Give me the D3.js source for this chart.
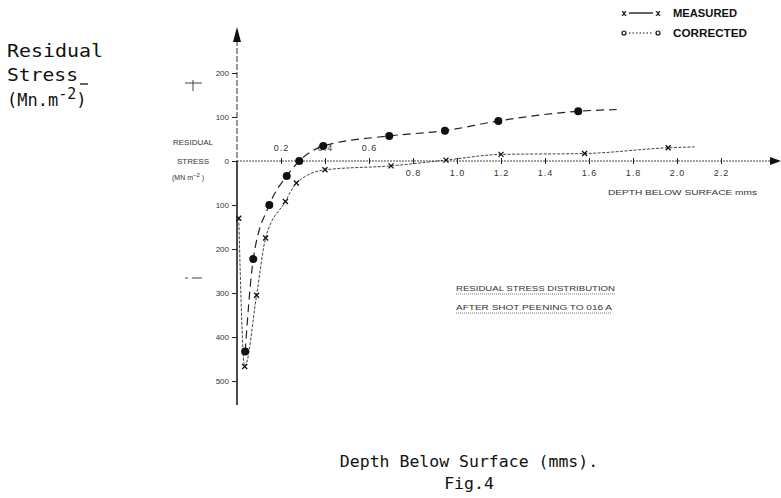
<!DOCTYPE html>
<html><head><meta charset="utf-8">
<script src="https://cdn.jsdelivr.net/npm/d3@7/dist/d3.min.js"></script>
<style>body{margin:0;background:#fff}svg{display:block}</style>
</head><body>
<svg id="c" width="781" height="498"></svg>
<script>
// ---- data ----
const xTickValues = [0.2, 0.4, 0.6, 0.8, 1.0, 1.2, 1.4, 1.6, 1.8, 2.0, 2.2];
const xTickLabels = ["0.2", "0.4", "0.6", "0.8", "1.0", "1.2", "1.4", "1.6", "1.8", "2.0", "2.2"];
const yTickValues = [200, 100, 0, -100, -200, -300, -400, -500];
const yTickLabels = ["200", "100", "0", "100", "200", "300", "400", "500"];

// measured (x markers)
const measuredDepth  = [0.008, 0.035, 0.089, 0.13, 0.22, 0.27, 0.40, 0.70, 0.95, 1.20, 1.58, 1.96];
const measuredStress = [-130, -467, -305, -175, -92, -50, -20, -11, 2, 15, 17, 30];
const measuredLineEnd = [2.08, 32];

// corrected (filled circles)
const correctedDepth  = [0.037, 0.074, 0.147, 0.226, 0.283, 0.392, 0.692, 0.945, 1.188, 1.551];
const correctedStress = [-433, -223, -100, -34, 0, 34, 57, 69, 91, 113];
const correctedLineEnd = [1.726, 117];

const legendLabels = ["MEASURED", "CORRECTED"];
const titleLines = ["RESIDUAL  STRESS DISTRIBUTION", "AFTER SHOT PEENING TO 016 A"];

// ---- drawing ----
const svg = d3.select("#c");
const x = d3.scaleLinear().domain([0, 2.2]).range([237, 721]);
const y = d3.scaleLinear().domain([-500, 200]).range([381, 73]);
const mono = "'DejaVu Sans Mono', monospace";
const sans = "'Liberation Sans', Arial, sans-serif";

// axes lines + arrows
svg.append("line").attr("x1", x(0)).attr("x2", x(0)).attr("y1", 40).attr("y2", y(0))
  .attr("stroke", "#333").attr("stroke-width", 1).attr("stroke-dasharray", "6,2");
svg.append("line").attr("x1", x(0)).attr("x2", x(0)).attr("y1", y(0)).attr("y2", 405)
  .attr("stroke", "#111").attr("stroke-width", 1.5);
svg.append("path").attr("d", `M${x(0)},27 L${x(0)-4},42 L${x(0)+4},42 Z`).attr("fill", "#111");
svg.append("line").attr("x1", x(0)).attr("x2", 773).attr("y1", y(0)).attr("y2", y(0))
  .attr("stroke", "#444").attr("stroke-width", 1.1).attr("stroke-dasharray", "2,1");
svg.append("path").attr("d", `M781,${y(0)} L770,${y(0)-4} L770,${y(0)+4} Z`).attr("fill", "#111");

// y axis ticks
const yAxis = d3.axisLeft(y).tickValues(yTickValues)
  .tickFormat((d, i) => yTickLabels[i]).tickSize(5).tickPadding(3);
const gy = svg.append("g").attr("transform", `translate(${x(0)},0)`).call(yAxis);
gy.select(".domain").remove();
gy.selectAll(".tick line").attr("stroke", "#222");
gy.selectAll(".tick text").attr("font-family", sans).attr("font-size", 8).attr("fill", "#333");

// x axis ticks
const xAxis = d3.axisBottom(x).tickValues(xTickValues)
  .tickFormat((d, i) => xTickLabels[i]).tickSize(3);
const gx = svg.append("g").attr("transform", `translate(0,${y(0)})`).call(xAxis);
gx.select(".domain").remove();
gx.selectAll(".tick line").attr("y1", -3).attr("y2", 3).attr("stroke", "#222");
gx.selectAll(".tick text").attr("font-family", sans).attr("font-size", 9).attr("fill", "#333")
  .attr("letter-spacing", 1)
  .attr("y", (d) => d < 0.7 ? -10 : 9)
  .attr("dy", (d) => d < 0.7 ? "0" : "0.71em");

// small axis labels
function txt(s, px, py, size, opts = {}) {
  const t = svg.append("text").attr("x", px).attr("y", py).attr("font-size", size)
    .attr("font-family", opts.family || sans).attr("fill", opts.fill || "#333").text(s);
  if (opts.len) t.attr("textLength", opts.len).attr("lengthAdjust", "spacingAndGlyphs");
  if (opts.weight) t.attr("font-weight", opts.weight);
  if (opts.anchor) t.attr("text-anchor", opts.anchor);
  return t;
}
txt("RESIDUAL", 173, 145, 7, {len: 40});
txt("STRESS", 177, 164, 7, {len: 32});
const mn = txt("(MN m", 172, 180, 7);
mn.append("tspan").attr("dy", -3).attr("font-size", 6).text("−2");
mn.append("tspan").attr("dy", 3).text(" )");
txt("DEPTH BELOW SURFACE mms", 608, 195, 7.5, {len: 149});

// +/- marks
svg.append("line").attr("x1", 185).attr("x2", 202).attr("y1", 83).attr("y2", 83).attr("stroke", "#444");
svg.append("line").attr("x1", 193).attr("x2", 193).attr("y1", 80).attr("y2", 91).attr("stroke", "#444");
svg.append("line").attr("x1", 185).attr("x2", 188).attr("y1", 278).attr("y2", 278).attr("stroke", "#444");
svg.append("line").attr("x1", 192).attr("x2", 202).attr("y1", 278).attr("y2", 278).attr("stroke", "#444");

// curves
const line = d3.line().x(d => x(d[0])).y(d => y(d[1])).curve(d3.curveMonotoneX);
const measuredPts = measuredDepth.map((d, i) => [d, measuredStress[i]]);
const correctedPts = correctedDepth.map((d, i) => [d, correctedStress[i]]);

svg.append("path").attr("d", line(measuredPts.concat([measuredLineEnd])))
  .attr("fill", "none").attr("stroke", "#444").attr("stroke-width", 1)
  .attr("stroke-dasharray", "3,1.5");
svg.append("path").attr("d", line(correctedPts.concat([correctedLineEnd])))
  .attr("fill", "none").attr("stroke", "#222").attr("stroke-width", 1.2)
  .attr("stroke-dasharray", "8,5");

// markers
svg.append("g").selectAll("path").data(measuredPts).join("path")
  .attr("d", d => { const cx = x(d[0]), cy = y(d[1]);
    return `M${cx-2.5},${cy-2.5}L${cx+2.5},${cy+2.5}M${cx-2.5},${cy+2.5}L${cx+2.5},${cy-2.5}`; })
  .attr("stroke", "#111").attr("stroke-width", 1.3);
svg.append("g").selectAll("circle").data(correctedPts).join("circle")
  .attr("cx", d => x(d[0])).attr("cy", d => y(d[1])).attr("r", 4).attr("fill", "#111");

// annotation
titleLines.forEach((s, i) => {
  const by = 291 + i * 19;
  txt(s, 456, by, 8, {len: i === 0 ? 159 : 156});
  svg.append("line").attr("x1", 456).attr("x2", i === 0 ? 615 : 612)
    .attr("y1", by + 3).attr("y2", by + 3).attr("stroke", "#555")
    .attr("stroke-width", 0.8).attr("stroke-dasharray", "1,1");
});

// legend
const lg = svg.append("g");
legendLabels.forEach((s, i) => {
  const ly = 13 + i * 20;
  if (i === 0) {
    lg.append("text").attr("x", 624).attr("y", ly + 3).attr("text-anchor", "middle")
      .attr("font-family", sans).attr("font-size", 9).attr("font-weight", "bold").text("x");
    lg.append("text").attr("x", 658).attr("y", ly + 3).attr("text-anchor", "middle")
      .attr("font-family", sans).attr("font-size", 9).attr("font-weight", "bold").text("x");
    lg.append("line").attr("x1", 629).attr("x2", 653).attr("y1", ly).attr("y2", ly)
      .attr("stroke", "#111").attr("stroke-width", 1.3);
  } else {
    lg.append("circle").attr("cx", 624).attr("cy", ly).attr("r", 2).attr("fill", "none")
      .attr("stroke", "#111").attr("stroke-width", 1.2);
    lg.append("circle").attr("cx", 658).attr("cy", ly).attr("r", 2).attr("fill", "none")
      .attr("stroke", "#111").attr("stroke-width", 1.2);
    lg.append("line").attr("x1", 629).attr("x2", 653).attr("y1", ly).attr("y2", ly)
      .attr("stroke", "#111").attr("stroke-width", 1).attr("stroke-dasharray", "1.5,2");
  }
  txt(s, 673, ly + 4, 10.5, {weight: "bold", fill: "#111", len: i === 0 ? 64 : 74});
});

// big typewriter labels
txt("Residual", 7, 57, 17, {family: mono, fill: "#111", len: 96});
txt("Stress", 7, 81, 17, {family: mono, fill: "#111", len: 71});
// small underscore after "Stress"
svg.append("line").attr("x1", 80).attr("x2", 88).attr("y1", 84).attr("y2", 84)
  .attr("stroke", "#111").attr("stroke-width", 1.3);
const ml = svg.append("text").attr("x", 7).attr("y", 106).attr("font-family", mono)
  .attr("font-size", 17).attr("fill", "#111");
ml.append("tspan").text("(Mn.m");
ml.append("tspan").attr("dy", -7).attr("font-size", 15).text("-2");
ml.append("tspan").attr("dy", 7).text(")");

txt("Depth Below Surface (mms).", 469, 467, 16.5, {family: mono, fill: "#111", anchor: "middle"});
txt("Fig.4", 469, 489, 16.5, {family: mono, fill: "#111", anchor: "middle"});
</script>
</body></html>
